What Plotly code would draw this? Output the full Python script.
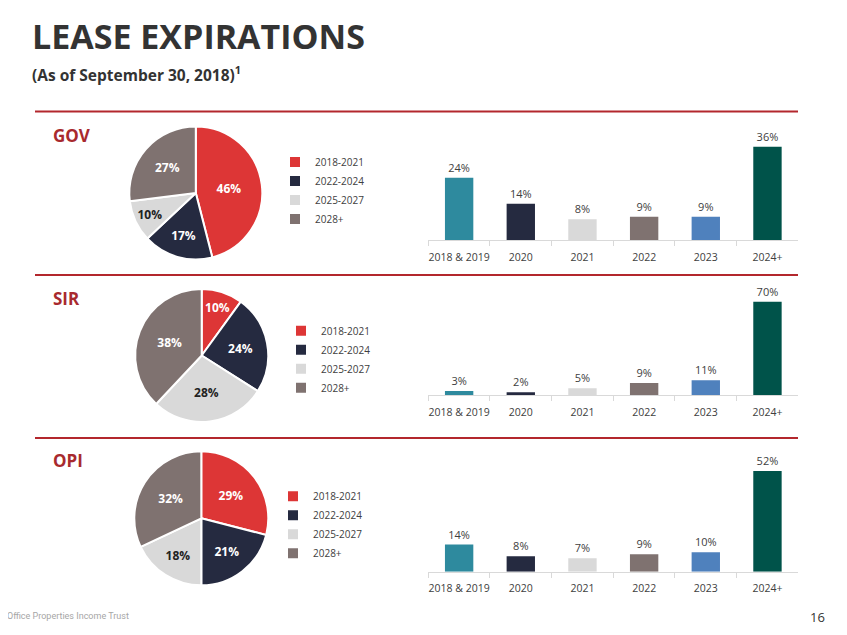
import plotly.graph_objects as go

# page is 847x635 but the html body has an 8px margin
PAGE_W, PAGE_H, OFF = 847, 635, 8
W, H = PAGE_W - 2 * OFF, PAGE_H - 2 * OFF

# ---------------- data ----------------
pie_labels = ["2018-2021", "2022-2024", "2025-2027", "2028+"]
gov_pie = [46, 17, 10, 27]
sir_pie = [10, 24, 28, 38]
opi_pie = [29, 21, 18, 32]

bar_categories = ["2018 & 2019", "2020", "2021", "2022", "2023", "2024+"]
gov_bars = [24, 14, 8, 9, 9, 36]
sir_bars = [3, 2, 5, 9, 11, 70]
opi_bars = [14, 8, 7, 9, 10, 52]

section_names = ["GOV", "SIR", "OPI"]

# ---------------- styles ----------------
pie_colors = ["#dd3636", "#252a40", "#d9d9d9", "#7f7270"]
pie_text_colors = ["#ffffff", "#ffffff", "#222222", "#ffffff"]
bar_colors = ["#2e8a9e", "#252a40", "#d9d9d9", "#7f7270", "#4f81bd", "#00534a"]
RED = "#b3272d"
FONT = "Open Sans"


def px(x):
    return (x - OFF) / W


def py(y):
    return 1 - (y - OFF) / H


fig = go.Figure()

# pies: (values, center x, center y, radius, legend id, legend x, legend top y, group)
pie_specs = [
    (gov_pie, 195.8, 193.0, 66.5, "legend", 275, 147.5, "gov"),
    (sir_pie, 201.7, 355.5, 66.5, "legend2", 281, 316.3, "sir"),
    (opi_pie, 201.3, 518.3, 67.0, "legend3", 273, 481.8, "opi"),
]
for vals, cx, cy, r, lg, lx, ly, grp in pie_specs:
    fig.add_trace(go.Pie(
        labels=pie_labels, values=vals, sort=False, direction="clockwise",
        rotation=0,
        marker=dict(colors=pie_colors, line=dict(color="white", width=2)),
        texttemplate="%{value}%", textinfo="text",
        textposition="inside", insidetextorientation="horizontal",
        textfont=dict(family=FONT, size=12, color=pie_text_colors, weight="bold"),
        domain=dict(x=[px(cx - r), px(cx + r)], y=[py(cy + r), py(cy - r)]),
        legend=lg, legendgroup=grp, hoverinfo="label+value",
    ))

# bars: (values, axis suffix, baseline y, top y, range max)
bar_specs = [
    (gov_bars, "", 240.0, 130.0, 36 * 110 / 93.3),
    (sir_bars, "2", 395.0, 285.0, 70 * 110 / 93.3),
    (opi_bars, "3", 571.7, 461.7, 52 * 110 / 100.7),
]
x0, x1 = 428.3, 798.3
for vals, sfx, base, top, rmax in bar_specs:
    fig.add_trace(go.Bar(
        x=bar_categories, y=vals, marker=dict(color=bar_colors, line=dict(width=0)),
        texttemplate="%{y}%", textposition="outside", cliponaxis=False,
        textfont=dict(family=FONT, size=11, color="#404040"),
        xaxis="x" + sfx, yaxis="y" + sfx, showlegend=False, width=0.46,
    ))
    fig.update_layout(**{
        "xaxis" + sfx: dict(
            domain=[px(x0), px(x1)], anchor="y" + sfx, type="category",
            showline=True, linecolor="#d9d9d9", linewidth=1,
            ticks="outside", tickson="boundaries", ticklen=5, tickcolor="#d9d9d9",
            ticklabelstandoff=7,
            tickangle=0, tickfont=dict(family=FONT, size=10.5, color="#404040"),
            showgrid=False, zeroline=False, fixedrange=True,
        ),
        "yaxis" + sfx: dict(
            domain=[py(base), py(top)], anchor="x" + sfx, range=[0, rmax],
            visible=False, showgrid=False, zeroline=False, fixedrange=True,
        ),
    })

# legends
for vals, cx, cy, r, lg, lx, ly, grp in pie_specs:
    fig.update_layout(**{lg: dict(
        x=px(lx), y=py(ly), xanchor="left", yanchor="top",
        font=dict(family=FONT, size=10, color="#404040"),
        bgcolor="rgba(0,0,0,0)", borderwidth=0, tracegroupgap=0,
        itemclick=False, itemdoubleclick=False,
    )})

# separators and text
shapes = []
for y in [111.5, 275.0, 438.0]:
    shapes.append(dict(type="line", xref="paper", yref="paper",
                       x0=px(35), x1=px(798), y0=py(y), y1=py(y),
                       line=dict(color=RED, width=2)))

annotations = [
    dict(text="<b>LEASE EXPIRATIONS</b>", x=px(30), y=py(36), xanchor="left", yanchor="middle",
         font=dict(family=FONT, size=34, color="#333333")),
    dict(text="<b>(As of September 30, 2018)<sup>1</sup></b>", x=px(30), y=py(74), xanchor="left",
         yanchor="middle", font=dict(family=FONT, size=15.5, color="#333333")),
    dict(text="Office Properties Income Trust", x=px(5), y=py(616), xanchor="left", yanchor="middle",
         font=dict(family="Roboto", size=9, color="#a6a6a6")),
    dict(text="16", x=px(827), y=py(617), xanchor="right", yanchor="middle",
         font=dict(family=FONT, size=13, color="#333333")),
]
for name, y in zip(section_names, [136, 298, 461]):
    annotations.append(dict(text="<b>%s</b>" % name, x=px(51), y=py(y), xanchor="left",
                            yanchor="middle", font=dict(family=FONT, size=17, color="#a82a2e")))
for a in annotations:
    a.update(xref="paper", yref="paper", showarrow=False)

fig.update_layout(
    width=W, height=H, margin=dict(l=0, r=0, t=0, b=0),
    paper_bgcolor="white", plot_bgcolor="white",
    shapes=shapes, annotations=annotations, bargap=0.54,
    font=dict(family=FONT),
)

fig.write_html("out.html")
